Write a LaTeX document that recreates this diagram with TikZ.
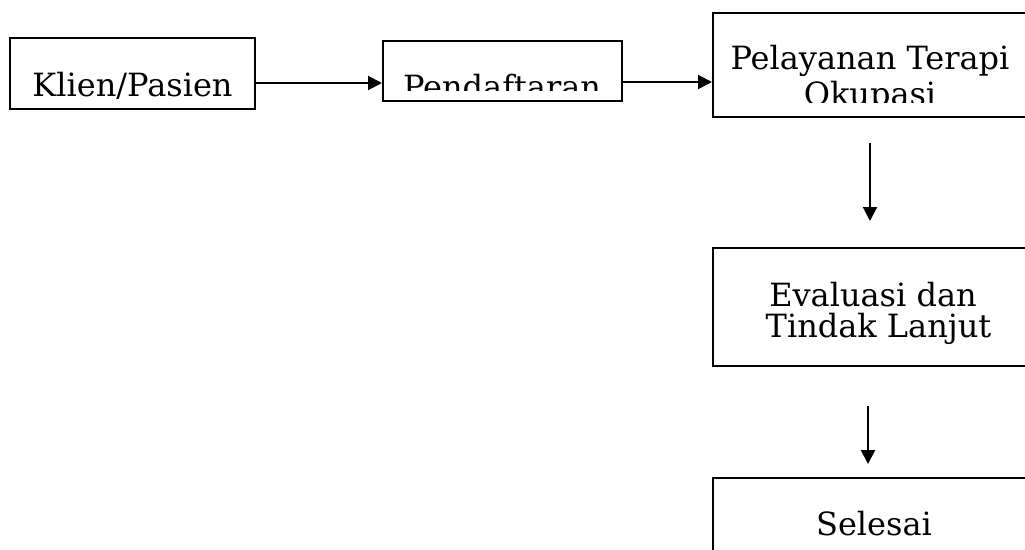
\documentclass[tikz,border=0pt]{standalone}
\usepackage{fontspec}
\setmainfont{DejaVu Serif}
\usetikzlibrary{arrows.meta}
\begin{document}
\begin{tikzpicture}[x=1pt,y=-1pt,
  box/.style={draw=black,line width=2pt,inner sep=0pt},
  lbl/.style={anchor=base,inner sep=0pt,font=\fontsize{32}{38}\selectfont},
  arr/.style={line width=2pt,-{Triangle[length=14pt,width=14pt]}}]
\useasboundingbox (0,0) rectangle (1025,549);
\clip (0,0) rectangle (1025,549);
\fill[white] (0,0) rectangle (1025,549);
% boxes
\node[box,minimum width=245pt,minimum height=71pt] (b1) at (132.5,73.5) {};
\node[box,minimum width=239pt,minimum height=60pt] (b2) at (502.5,71) {};
\node[box,minimum width=317pt,minimum height=104pt] (b3) at (871.5,65) {};
\node[box,minimum width=317pt,minimum height=118pt] (b4) at (871.5,307) {};
\node[box,minimum width=317pt,minimum height=124pt] (b5) at (871.5,540) {};
% texts
\node[lbl] (t1) at (132.5,96) {Klien/Pasien};
\begin{scope}
  \clip (383,41) rectangle (622,90);
  \node[lbl] (t2) at (502,98) {Pendaftaran};
\end{scope}
\begin{scope}
  \clip (713,13) rectangle (1025,102.5);
  \node[lbl] (t3a) at (870,69) {Pelayanan Terapi};
  \node[lbl] (t3b) at (870,105) {Okupasi};
\end{scope}
\node[lbl] (t4a) at (873,306) {Evaluasi dan};
\node[lbl] (t4b) at (878.5,337) {Tindak Lanjut};
\node[lbl] (t5) at (874,535) {Selesai};
% connectors
\coordinate (r1) at (0,83);
\coordinate (r2) at (0,82);
\draw[arr] (b1.east |- r1) -- (b2.west |- r1);
\draw[arr] (b2.east |- r2) -- (b3.west |- r2);
\coordinate (a3s) at (870,143);
\coordinate (a3e) at (870,221);
\draw[arr] (a3s) -- (a3e);
\coordinate (a4s) at (868,406);
\coordinate (a4e) at (868,464);
\draw[arr] (a4s) -- (a4e);
\end{tikzpicture}
\end{document}
